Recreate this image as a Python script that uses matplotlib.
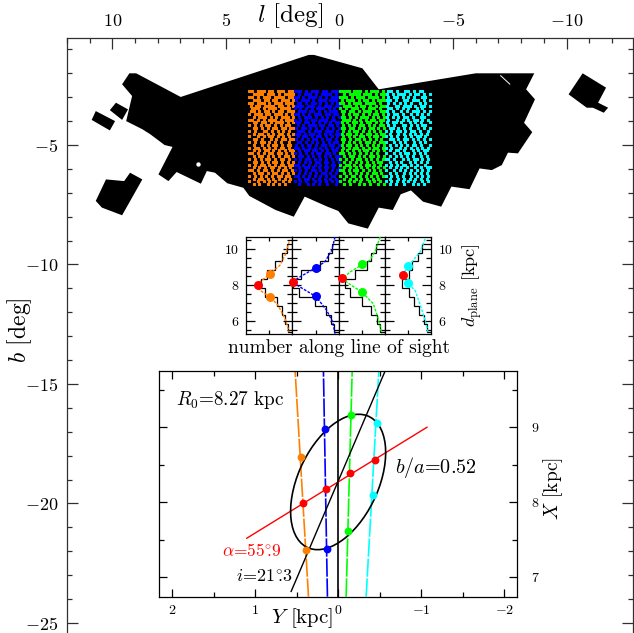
import numpy as np
import matplotlib
matplotlib.use("Agg")
import matplotlib.pyplot as plt
from matplotlib.patches import Ellipse
from matplotlib.ticker import MultipleLocator, FixedLocator, FuncFormatter

plt.rcParams['font.family'] = ['cmr10', 'DejaVu Serif']
plt.rcParams['mathtext.fontset'] = 'cm'
plt.rcParams['axes.unicode_minus'] = False

W, H = 634, 633
ORANGE, BLUE, GREEN, CYAN, RED = '#ff8000', '#0000ff', '#00ff00', '#00ffff', '#ff0000'
colors = [ORANGE, BLUE, GREEN, CYAN]

# survey footprint, (l, b) in deg
field_main_l = [9.57, 9.25, 8.95, 6.99, 1.35, 1.12, -1.01, -1.73, -6.0, -8.58, -8.22, -8.61, -8.13, -8.49,
                -7.86, -7.42, -7.15, -6.71, -6.17, -5.73, -4.93, -4.48, -3.68, -3.15, -2.70, -2.35, -1.73,
                -1.25, -0.39, 0.05, 0.53, 1.53, 2.01, 2.81, 3.97, 4.23, 4.94, 5.48, 5.84, 6.10, 7.17, 7.53,
                7.97, 7.35, 7.70, 8.33, 8.68, 9.39, 9.13]
field_main_b = [-2.46, -2.00, -2.00, -2.99, -1.23, -1.23, -1.79, -2.67, -2.00, -2.00, -2.67, -3.09, -4.07,
                -4.46, -5.35, -5.32, -5.84, -6.05, -5.98, -6.85, -6.74, -7.58, -7.37, -6.90, -7.06, -7.72,
                -7.62, -8.50, -8.28, -7.76, -7.58, -7.16, -8.00, -7.72, -7.13, -6.79, -6.60, -6.16, -6.09,
                -6.62, -6.13, -6.51, -6.23, -5.08, -5.00, -4.55, -4.34, -4.00, -2.95]
field_right_l = [-10.09, -10.71, -11.74, -11.39, -11.83, -11.64, -11.16, -10.89]
field_right_b = [-2.88, -2.00, -2.60, -3.23, -3.44, -3.65, -3.44, -3.44]
field_a_l = [10.11, 9.84, 9.31, 9.57]
field_a_b = [-3.54, -3.23, -3.51, -3.95]
field_b_l = [10.91, 10.73, 9.88, 10.11]
field_b_b = [-3.95, -3.58, -4.00, -4.39]
field_c_l = [10.73, 10.28, 9.48, 9.22, 8.68, 9.57, 10.46]
field_c_b = [-7.34, -6.44, -6.51, -6.16, -6.44, -7.94, -7.62]
hole_l = [6.23]
hole_b = [-5.81]
sliver_l = [-7.1, -7.5]
sliver_b = [-2.1, -2.45]

# l ranges of the four strips and their b range
strip_l = [(4, 2), (2, 0), (0, -2), (-2, -4)]
strip_b = (-2.7, -6.7)

# hand estimate of the star speckle in each strip, one character per cell
stars_orange = """
##.###.##.###.##
.####.###.#.####
##.#.###.####.##
.###.##.##.###.#
##.###.#.###.###
#.##.####.##.#.#
.###.#.###.####.
##.#.##.#.##.###
#.###.##.###.#.#
.#.###.#.#.###.#
##.#.#.###.#.###
.##.##.#.###.#.#
#.#.#.##.#.#.##.
.##.#.#.##.##.##
#.#..##.#.#.#.#.
.#.##.#.#.##.#.#
#..#.#.##.#.#.#.
.##.#..#.#.##.##
#.#.##.#.#.#..#.
.#..#.#.##.#.##.
#.##.#.#.#.##.#.
.#.#.##.#.#.#.##
##.#.#.##.##.#.#
.#.##.#.#.#.##.#
#.#.#.##.#.##.#.
.##.#.#.##.#.#.#
#.#.##.#.#.##.##
.#.#.#.##.#.#.#.
##.#.##.#.#.##.#
.#.##.#.##.#.#.#
#.#.#.#.#.##.##.
.#.##.#.#.#.#.#.
#..#.#.#.#..#.#.
.#.#..#.#.#.#...
"""
stars_blue = """
###.#.###.##.###
.#.###.#.####.#.
##.#.###.#.#.###
#.###.#.###.###.
.##.#.##.#.#.#.#
###.###.#.###.##
#.#.#.#.###.#.#.
.###.##.#.#.###.
##.#.#.###.##.##
.#.###.#.#.#.#.#
#.#.#.##.###.##.
##.##.#.#.#.#.##
.#.#.###.##.##.#
#.##.#.#.#.#.#.#
.###.#.###.###.#
##.#.##.#.#.#.##
.#.##.#.##.#.#.#
#.#.#.##.#.##.#.
.##.#.#.#.#.#.##
#.#.##.#.##.##.#
##.#.#.#.#.#.#.#
.#.##.##.#.#.##.
#.#.#.#.##.##.#.
.##.#.#.#.#.#.##
#.#.##.#.#.#.#.#
.#.#.#.##.##.#.#
##.#.#.#.#.#.##.
.#.##.#.#.##.#.#
#.#.#.##.#.#.#.#
.#.#.#.#.##.#.#.
##.#.#.#.#.#.##.
.#.##.#.#.#.#.#.
#.#.#..#.#.#.#.#
.#..#.#.#..#..#.
"""
stars_green = """
####.###.#.###.#
.#.####.###.#.##
###.#.###.####.#
#.###.#.##.#.###
##.#.###.####.#.
.###.#.##.#.#.##
#.#.###.#.###.#.
##.##.#.###.#.##
.#.#.##.#.#.##.#
##.#.#.###.#.#.#
.###.#.#.#.##.##
#.#.##.#.##.#.#.
.#.#.#.##.#.#.##
##.##.#.#.##.#.#
.#.#.##.#.#.#.#.
#.##.#.#.##.#.##
.#.#.#.##.#.##.#
##.#.##.#.#.#.#.
.#.#.#.#.##.#.##
#.##.#.#.#.#.#.#
.#.#.##.#.#.##.#
#.#.#.#.##.#.#.#
##.#.#.#.#.#.#..
.#.##.#.#.##.#.#
#.#.#.##.#.#.#.#
.#.#.#.#.#.#.##.
#.##.#.#.##.#.#.
.#.#.#.#.#.#.#.#
##.#.##.#.#.#.#.
.#.#.#.#.#.##.#.
#.#.##.#.#.#.#.#
.#.#.#.#.#.#.#..
#..#.#.#..#.#.#.
.#.#..#.#.#..#.#
"""
stars_cyan = """
.##.#..##.#.##..
#.#.###.#.##.#.#
.#.##.#.#.#..##.
##.#..##.###.#.#
.#.#.#.#.#..#.#.
#..##.###.#.##.#
.##.#.#.#..#.#..
#.#..#.#.###.#.#
.#.##.#..#.#.#.#
#.#.#.##.#..##..
.#..#.#.#.##.#.#
#.##.#..#.#.#..#
.#.#..##.#.#.##.
.##.#.#.#..#.#.#
#.#.##.#.##.#..#
.#..#.#.#.#.#.#.
#.#.#..#.#.##.#.
.##.#.##.#.#.#.#
#..#.#.#..#.#.#.
.#.#.#.#.##.#..#
#.#..#.#.#.#.#.#
.#.##.#..#.#.##.
#..#.#.##.#.#.#.
.#.#.#.#.#..#.#.
##.#..#.#.##.#.#
.#.#.#..#.#.#.#.
#.#.#.##.#.#..#.
.#.#.#.#..#.#.##
#..#.#.#.#.#.#.#
.#.#..#.#.#.#.#.
#.#.#.#..#.#.#.#
.#..#.#.#.#.#.#.
#.#.#.#.#.#..#.#
.#.#..#..#.#.#..
"""
stars = [stars_orange, stars_blue, stars_green, stars_cyan]

# los distances of the two density peaks, and where the bar crosses
d_near = [7.36, 7.38, 7.62, 8.10]
d_far = [8.60, 8.98, 9.16, 9.05]
d_red = [7.99, 8.18, 8.39, 8.56]
peak_x = [0.49, 0.49, 0.49, 0.50]
red_x = [0.75, 0.99, 0.92, 0.61]

# histogram of distances per strip
hist_edges = [10.3, 9.8, 9.33, 8.83, 8.35, 7.85, 7.35, 6.85, 6.37, 5.87, 5.4]
hist_1 = [.12, .23, .37, .55, .68, .59, .34, .23, .16, .09]
hist_2 = [.15, .24, .40, .81, .98, .85, .51, .27, .17, .10]
hist_3 = [.18, .30, .39, .65, .86, .75, .50, .30, .17, .10]
hist_4 = [.18, .28, .40, .48, .63, .48, .36, .25, .15, .09]
hists = [hist_1, hist_2, hist_3, hist_4]

# dashed fit curves
curve_x_1 = [.07, .14, .27, .49, .70, .75, .70, .49, .31, .16, .07]
curve_y_1 = [10.44, 9.76, 9.11, 8.61, 8.19, 8.0, 7.72, 7.37, 6.89, 6.15, 5.4]
curve_x_2 = [.08, .15, .30, .49, .84, 1.0, .84, .49, .26, .13, .08]
curve_y_2 = [10.69, 9.94, 9.30, 8.98, 8.46, 8.19, 7.91, 7.37, 6.61, 5.96, 5.31]
curve_x_3 = [.10, .20, .32, .49, .75, .92, .75, .49, .25, .14, .065]
curve_y_3 = [10.69, 9.94, 9.39, 9.15, 8.74, 8.37, 8.04, 7.61, 6.98, 6.15, 5.31]
curve_x_4 = [.12, .23, .41, .50, .61, .50, .34, .20, .10, .05]
curve_y_4 = [10.59, 9.85, 9.30, 9.06, 8.57, 8.11, 7.72, 6.70, 5.87, 5.31]
curves = [(curve_x_1, curve_y_1), (curve_x_2, curve_y_2), (curve_x_3, curve_y_3), (curve_x_4, curve_y_4)]

# bottom panel, Y and X in kpc
R0 = 8.27
los_Y_top = [.518, .177, -.169, -.49]
los_Y_bot = [.357, .129, -.096, -.337]
near_Y = [.386, .129, -.124, -.414]
far_Y = [.446, .157, -.149, -.466]
red_Y = [.418, .149, -.137, -.442]
bar_Y = [1.10, -1.07]
bar_X = [7.52, 9.00]
incl_Y = [.566, -.562]
incl_X = [6.81, 9.74]
ell_a = 0.95
ell_b = 0.49
ell_i = 21.3


def px_axes(left, top, right, bottom):
    return fig.add_axes([left / W, 1 - bottom / H, (right - left) / W, (bottom - top) / H])


def px_text(x, y, s, **kw):
    kw.setdefault('ha', 'center')
    kw.setdefault('va', 'center')
    fig.text(x / W, 1 - y / H, s, **kw)


def math_int(v, pos):
    return '$%d$' % round(v)


fig = plt.figure(figsize=(W / 100, H / 100), dpi=100)

# main map
ax = px_axes(66.7, 37.7, 633.3, 633)
ax.set_xlim(12.01, -12.94)
ax.set_ylim(-25.42, -0.51)
for fl, fb in [(field_main_l, field_main_b), (field_right_l, field_right_b), (field_a_l, field_a_b),
               (field_b_l, field_b_b), (field_c_l, field_c_b)]:
    ax.fill(fl, fb, color='k', lw=0)
ax.scatter(hole_l, hole_b, s=10, c='w', linewidths=0, zorder=2)
ax.plot(sliver_l, sliver_b, color='w', lw=0.7, zorder=2)
for rows, col, (l0, l1) in zip(stars, colors, strip_l):
    grid = np.array([list(r) for r in rows.split()]) == '#'
    iy, ix = np.nonzero(grid)
    # odd rows sit half a cell over, so the speckle does not line up in columns
    px = l0 + (ix + .25 + .5 * (iy % 2)) / grid.shape[1] * (l1 - l0)
    py = strip_b[0] + (iy + .5) / grid.shape[0] * (strip_b[1] - strip_b[0])
    ax.scatter(px, py, s=4.6, c=col, marker='s', linewidths=0, zorder=3, snap=False)
ax.spines['bottom'].set_visible(False)
for s in ax.spines.values():
    s.set_linewidth(0.9)
    s.set_color('#303030')
ax.xaxis.set_major_locator(MultipleLocator(5))
ax.xaxis.set_minor_locator(MultipleLocator(1))
ax.yaxis.set_major_locator(MultipleLocator(5))
ax.yaxis.set_minor_locator(MultipleLocator(1))
ax.xaxis.set_major_formatter(FuncFormatter(math_int))
ax.yaxis.set_major_formatter(FuncFormatter(math_int))
ax.tick_params(which='major', direction='in', length=8, width=0.9, color='#303030', labelsize=13,
               top=True, bottom=False, left=True, right=True, labeltop=True, labelbottom=False, pad=6)
ax.tick_params(which='minor', direction='in', length=3.8, width=0.9, color='#303030',
               top=True, bottom=False, left=True, right=True)
px_text(290, 16, '$l$ [deg]', fontsize=18)
px_text(20, 330, '$b$ [deg]', fontsize=17, rotation=90)

# line of sight distance panels
lefts = [246, 292.4, 338.7, 384.7]
rights = [292.4, 338.7, 384.7, 430.7]
for k in range(4):
    a = px_axes(lefts[k], 236.7, rights[k], 334)
    a.set_xlim(1, 0)
    a.set_ylim(5.29, 10.7)
    a.stairs(hists[k][::-1], hist_edges[::-1], orientation='horizontal', color='k', lw=0.9, zorder=2)
    a.plot(curves[k][0], curves[k][1], color=colors[k], lw=1, ls=(0, (2, 1)), zorder=3)
    a.scatter([peak_x[k], peak_x[k]], [d_near[k], d_far[k]], s=42, color=colors[k], lw=0, zorder=4)
    a.scatter([red_x[k]], [d_red[k]], s=42, color=RED, lw=0, zorder=5, clip_on=False)
    a.xaxis.set_major_locator(FixedLocator([0.5]))
    a.yaxis.set_major_locator(FixedLocator([6, 8, 10]))
    a.yaxis.set_minor_locator(MultipleLocator(0.5))
    a.yaxis.set_major_formatter(FuncFormatter(math_int))
    a.tick_params(axis='x', direction='in', length=3, width=0.9, top=True, bottom=True, labelbottom=False)
    a.tick_params(axis='y', which='major', direction='in', length=6.5, width=0.9, left=True, right=True,
                  labelleft=(k == 0), labelright=(k == 3), labelsize=10, pad=5)
    a.tick_params(axis='y', which='minor', direction='in', length=3.6, width=0.9, left=True, right=True)
    for s in a.spines.values():
        s.set_linewidth(0.9)
px_text(339, 348, 'number along line of sight', fontsize=14)
px_text(472, 285, r'$d_{\rm plane}$ [kpc]', fontsize=13, rotation=90)

# face-on view
bx = px_axes(159, 371, 516.7, 596.7)
bx.set_xlim(2.157, -2.15)
bx.set_ylim(6.74, 9.75)
bx.axvline(0, color='k', lw=1.2, zorder=2)
for k in range(4):
    bx.plot([los_Y_bot[k], los_Y_top[k]], [6.74, 9.75], color=colors[k], lw=1.2, ls=(0, (11, 1)), zorder=2)
bx.plot(bar_Y, bar_X, color=RED, lw=1, zorder=2)
bx.plot(incl_Y, incl_X, color='k', lw=1, zorder=2)
bx.add_patch(Ellipse((0, R0), 2 * ell_a, 2 * ell_b, angle=90 + ell_i, fill=False, ec='k', lw=1.2, zorder=3))
for k in range(4):
    bx.scatter([near_Y[k], far_Y[k]], [d_near[k], d_far[k]], s=32, color=colors[k], lw=0, zorder=4)
bx.scatter(red_Y, d_red, s=32, color=RED, lw=0, zorder=5)
bx.xaxis.set_major_locator(MultipleLocator(1))
bx.xaxis.set_minor_locator(MultipleLocator(0.5))
bx.yaxis.set_major_locator(MultipleLocator(1))
bx.yaxis.set_minor_locator(MultipleLocator(0.5))
bx.xaxis.set_major_formatter(FuncFormatter(math_int))
bx.yaxis.set_major_formatter(FuncFormatter(math_int))
bx.tick_params(which='major', direction='in', length=6, width=0.9, top=True, bottom=True, left=True, right=True,
               labelleft=False, labelright=True, labelsize=10)
bx.tick_params(axis='y', which='major', pad=10)
bx.tick_params(axis='x', which='major', pad=5)
bx.tick_params(which='minor', direction='in', length=3.6, width=0.9, top=True, bottom=True, left=True, right=True)
for s in bx.spines.values():
    s.set_linewidth(0.9)
px_text(302, 618, '$Y$ [kpc]', fontsize=15)
px_text(553, 489, '$X$ [kpc]', fontsize=14, rotation=90)
px_text(176, 400, '$R_0$=8.27 kpc', fontsize=13.8, ha='left')
px_text(222, 551, r'$\alpha$=55$^{\circ}\!\!$.9', fontsize=12.5, ha='left', color=RED)
px_text(236, 577, r'$i$=21$^{\circ}\!\!$.3', fontsize=13, ha='left')
px_text(395, 467, '$b/a$=0.52', fontsize=14.5, ha='left')

fig.savefig('out.png', dpi=100)
